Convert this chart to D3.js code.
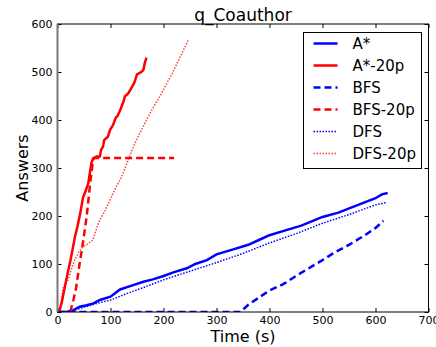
<!DOCTYPE html>
<html>
<head>
<meta charset="utf-8">
<script src="https://cdn.jsdelivr.net/npm/d3@7"></script>
<style>
  body { margin: 0; background: #fff; }
  text { font-family: "DejaVu Sans", sans-serif; }
</style>
</head>
<body>
<script>
// series values: [time (s), answers]
var aStar = [[0,0],[17,0],[30,4],[42,11],[55,14],[68,18],[80,25],[100,32],[118,47],[140,55],[162,63],[180,68],[200,75],[220,83],[244,91],[260,100],[282,108],[300,120],[330,130],[360,140],[380,150],[400,160],[430,170],[460,180],[500,198],[530,207],[560,220],[600,237],[612,245],[623,248]];
var aStar20 = [[3,0],[8,20],[14,53],[19,80],[24,105],[28,128],[33,157],[38,180],[43,206],[48,238],[53,252],[58,268],[61,289],[64,310],[67,320],[74,324],[80,324],[82,337],[86,345],[88,358],[95,365],[99,379],[105,390],[110,405],[113,408],[118,420],[125,440],[127,449],[133,455],[137,462],[145,478],[150,495],[158,500],[162,504],[165,520],[168,530]];
var bfs = [[0,0],[345,0],[360,15],[380,30],[400,45],[426,58],[450,75],[480,95],[500,108],[520,122],[550,140],[580,160],[600,175],[615,190]];
var bfs20 = [[24,0],[30,25],[35,50],[39,80],[43,110],[46,129],[50,160],[55,199],[58,230],[61,261],[64,290],[67,317],[70,321],[220,321]];
var dfs = [[0,0],[15,0],[30,3],[50,10],[75,18],[100,25],[130,38],[160,50],[200,67],[250,85],[300,103],[350,122],[400,144],[450,163],[500,185],[550,203],[600,223],[620,228]];
var dfs20 = [[3,0],[5,4],[8,30],[11,53],[20,67],[30,102],[39,123],[48,136],[57,142],[67,150],[74,175],[80,192],[90,212],[99,233],[108,255],[118,275],[124,290],[133,315],[143,344],[155,372],[168,400],[180,425],[193,449],[205,474],[218,500],[232,533],[247,567]];

var xTicks = [0,100,200,300,400,500,600,700];
var yTicks = [0,100,200,300,400,500,600];

var series = [
  {name: "A*",      data: aStar,   color: "#0000ff", width: 2.5, dash: null},
  {name: "A*-20p",  data: aStar20, color: "#ff0000", width: 2.5, dash: null},
  {name: "BFS",     data: bfs,     color: "#0000ff", width: 2.5, dash: "7,4"},
  {name: "BFS-20p", data: bfs20,   color: "#ff0000", width: 2.5, dash: "7,4"},
  {name: "DFS",     data: dfs,     color: "#0000ff", width: 1.5, dash: "1.5,1.5"},
  {name: "DFS-20p", data: dfs20,   color: "#ff0000", width: 1.5, dash: "1.5,1.5", opacity: 0.75}
];

var W = 436, H = 347;
var margin = {top: 24, right: 7.5, bottom: 35, left: 57.5};
var width = W - margin.left - margin.right,
    height = H - margin.top - margin.bottom;

var svg = d3.select("body").append("svg")
    .attr("width", W)
    .attr("height", H);

var g = svg.append("g")
    .attr("transform", "translate(" + margin.left + "," + margin.top + ")");

var x = d3.scaleLinear().domain([0, 700]).range([0, width]);
var y = d3.scaleLinear().domain([0, 600]).range([height, 0]);

// clip lines to the axes box
svg.append("defs").append("clipPath").attr("id", "clip")
  .append("rect").attr("width", width).attr("height", height);

var line = d3.line()
    .x(function(d) { return x(d[0]); })
    .y(function(d) { return y(d[1]); });

g.append("g").attr("clip-path", "url(#clip)")
  .selectAll("path")
  .data(series)
  .enter().append("path")
    .attr("d", function(d) { return line(d.data); })
    .attr("fill", "none")
    .attr("stroke", function(d) { return d.color; })
    .attr("stroke-width", function(d) { return d.width; })
    .attr("stroke-dasharray", function(d) { return d.dash; })
    .attr("stroke-opacity", function(d) { return d.opacity || 1; });

// axes with inward ticks on all four sides
var tickLen = 4;
g.append("g")
    .attr("transform", "translate(0," + height + ")")
    .call(d3.axisBottom(x).tickValues(xTicks).tickSizeInner(-tickLen).tickSizeOuter(0).tickPadding(4));
g.append("g")
    .call(d3.axisTop(x).tickValues(xTicks).tickSizeInner(-tickLen).tickSizeOuter(0).tickFormat(""));
g.append("g")
    .call(d3.axisLeft(y).tickValues(yTicks).tickSizeInner(-tickLen).tickSizeOuter(0).tickPadding(5));
g.append("g")
    .attr("transform", "translate(" + width + ",0)")
    .call(d3.axisRight(y).tickValues(yTicks).tickSizeInner(-tickLen).tickSizeOuter(0).tickFormat(""));

g.selectAll(".domain").remove();
g.selectAll(".tick line").attr("stroke", "#000");
g.selectAll(".tick text")
    .attr("fill", "#000")
    .style("font-size", "11px")
    .style("font-family", "DejaVu Sans, sans-serif");

// axes box
g.append("rect")
    .attr("width", width)
    .attr("height", height)
    .attr("fill", "none")
    .attr("stroke", "#000")
    .attr("stroke-width", 1);
g.append("line")
    .attr("x1", 0).attr("x2", 0).attr("y1", 0).attr("y2", height)
    .attr("stroke", "#777").attr("stroke-width", 2);

// title and labels
svg.append("text")
    .attr("x", margin.left + width / 2)
    .attr("y", 21)
    .attr("text-anchor", "middle")
    .style("font-size", "17px")
    .text("q_Coauthor");

svg.append("text")
    .attr("x", margin.left + width / 2)
    .attr("y", 342)
    .attr("text-anchor", "middle")
    .style("font-size", "16px")
    .text("Time (s)");

svg.append("text")
    .attr("transform", "translate(28," + (margin.top + height / 2) + ") rotate(-90)")
    .attr("text-anchor", "middle")
    .style("font-size", "16px")
    .text("Answers");

// legend
var legend = svg.append("g").attr("transform", "translate(303.5,32.5)");
legend.append("rect")
    .attr("width", 118)
    .attr("height", 136)
    .attr("fill", "#fff")
    .attr("stroke", "#000")
    .attr("stroke-width", 1);

var item = legend.selectAll(".item")
    .data(series)
  .enter().append("g")
    .attr("class", "item")
    .attr("transform", function(d, i) { return "translate(0," + (11 + i * 22) + ")"; });

item.append("line")
    .attr("x1", 10).attr("x2", 34)
    .attr("stroke", function(d) { return d.color; })
    .attr("stroke-width", function(d) { return d.width; })
    .attr("stroke-dasharray", function(d) { return d.dash; })
    .attr("stroke-opacity", function(d) { return d.opacity || 1; });

item.append("text")
    .attr("x", 49)
    .attr("y", 5.5)
    .style("font-size", "15px")
    .text(function(d) { return d.name; });
</script>
</body>
</html>
